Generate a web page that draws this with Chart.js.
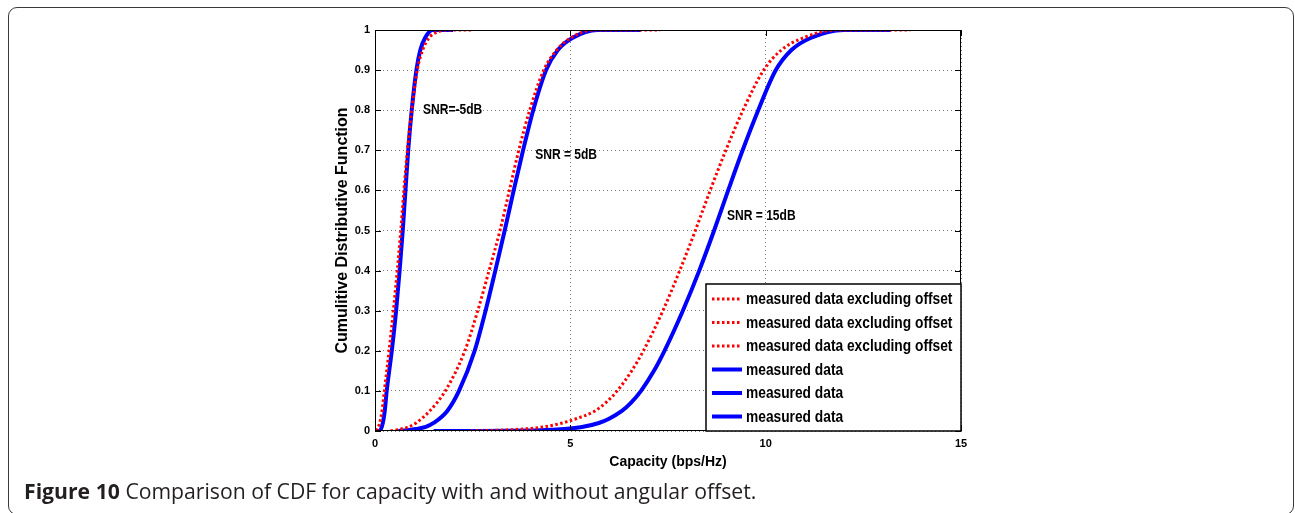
<!DOCTYPE html>
<html>
<head>
<meta charset="utf-8">
<script src="https://cdn.jsdelivr.net/npm/chart.js@4.4.1/dist/chart.umd.min.js"></script>
<style>
  html, body { margin: 0; padding: 0; background: #fff; }
  #page { position: relative; width: 1295px; height: 513px; overflow: hidden; }
  #frame {
    position: absolute; left: 8px; top: 7px; width: 1286px; height: 508px;
    box-sizing: border-box; border: 1.5px solid #3a3a3a; border-radius: 9px;
  }
  #chart { position: absolute; left: 0; top: 0; }
  #caption {
    position: absolute; left: 24px; top: 479px;
    font-family: "Open Sans", "Noto Sans", sans-serif; font-size: 21.2px; line-height: 24px;
    color: #231f20; white-space: nowrap;
  }
  #caption b { font-weight: 700; }
</style>
</head>
<body>
<div id="page">
  <div id="frame"></div>
  <canvas id="chart" width="1295" height="513"></canvas>
  <div id="caption"><b>Figure 10</b> Comparison of CDF for capacity with and without angular offset.</div>
</div>
<script>
// capacity (bps/Hz) and CDF, one pair per curve
const capRedLow  = [0.04, 0.12, 0.18, 0.24, 0.36, 0.47, 0.57, 0.66, 0.74, 0.83, 0.94, 1.08, 1.22, 1.38, 1.6, 1.9, 2.5];
const cdfRedLow  = [0, 0.02, 0.05, 0.1, 0.2, 0.3, 0.4, 0.5, 0.6, 0.7, 0.8, 0.9, 0.95, 0.98, 0.995, 1, 1];
const capRedMid  = [0.4, 0.85, 1.05, 1.4, 1.8, 2.3, 2.63, 2.92, 3.2, 3.44, 3.68, 3.96, 4.32, 4.65, 5.0, 5.6, 7.3];
const cdfRedMid  = [0, 0.01, 0.02, 0.05, 0.1, 0.2, 0.3, 0.4, 0.5, 0.6, 0.7, 0.8, 0.9, 0.95, 0.98, 1, 1];
const capRedHigh = [2.45, 3.2, 3.8, 4.3, 4.8, 5.13, 5.63, 5.9, 6.2, 6.57, 6.87, 7.37, 7.8, 8.2, 8.58, 8.98, 9.42, 9.95, 10.4, 10.95, 11.8, 13.7];
const cdfRedHigh = [0, 0.002, 0.005, 0.01, 0.02, 0.03, 0.05, 0.07, 0.1, 0.15, 0.2, 0.3, 0.4, 0.5, 0.6, 0.7, 0.8, 0.9, 0.95, 0.98, 1, 1];

const capBlueLow  = [0, 0.12, 0.2, 0.25, 0.3, 0.43, 0.54, 0.63, 0.71, 0.78, 0.85, 0.94, 1.06, 1.16, 1.28, 1.47, 2.0];
const cdfBlueLow  = [0, 0, 0.02, 0.05, 0.1, 0.2, 0.3, 0.4, 0.5, 0.6, 0.7, 0.8, 0.9, 0.95, 0.98, 1, 1];
const capBlueMid  = [0.6, 1.05, 1.3, 1.5, 1.85, 2.15, 2.55, 2.83, 3.08, 3.32, 3.55, 3.79, 4.05, 4.38, 4.68, 5.05, 5.7, 6.8];
const cdfBlueMid  = [0, 0.005, 0.01, 0.02, 0.05, 0.1, 0.2, 0.3, 0.4, 0.5, 0.6, 0.7, 0.8, 0.9, 0.95, 0.98, 1, 1];
const capBlueHigh = [1.5, 4.2, 4.85, 5.3, 5.73, 5.98, 6.32, 6.55, 6.81, 7.14, 7.41, 7.88, 8.3, 8.68, 9.04, 9.41, 9.81, 10.26, 10.66, 11.15, 12.0, 13.2];
const cdfBlueHigh = [0, 0.002, 0.005, 0.01, 0.02, 0.03, 0.05, 0.07, 0.1, 0.15, 0.2, 0.3, 0.4, 0.5, 0.6, 0.7, 0.8, 0.9, 0.95, 0.98, 1, 1];

const seriesLabels = [
  'measured data excluding offset', 'measured data excluding offset', 'measured data excluding offset',
  'measured data', 'measured data', 'measured data'
];

const xTicks = [0, 5, 10, 15];
const yTicks = [0, 0.1, 0.2, 0.3, 0.4, 0.5, 0.6, 0.7, 0.8, 0.9, 1];

const snrLabels = ['SNR=-5dB', 'SNR = 5dB', 'SNR = 15dB'];
const snrAtX    = [1.23, 4.10, 9.01];
const snrAtY    = [0.80, 0.688, 0.536];

const pairs = (xs, ys) => xs.map((v, i) => ({ x: v, y: ys[i] }));

const RED = '#ff0000', BLUE = '#0000ff';
const redStyle  = { borderColor: RED,  borderWidth: 3, borderDash: [2.5, 2.5], borderCapStyle: 'butt' };
const blueStyle = { borderColor: BLUE, borderWidth: 4, borderDash: [] };

const curves = [
  [capRedLow, cdfRedLow, redStyle], [capRedMid, cdfRedMid, redStyle], [capRedHigh, cdfRedHigh, redStyle],
  [capBlueLow, cdfBlueLow, blueStyle], [capBlueMid, cdfBlueMid, blueStyle], [capBlueHigh, cdfBlueHigh, blueStyle]
];

const datasets = curves.map(([xs, ys, st], i) => ({
  label: seriesLabels[i],
  data: pairs(xs, ys),
  ...st,
  pointRadius: 0,
  fill: false,
  cubicInterpolationMode: 'monotone'
}));

const NARROW = 0.86;
function narrowText(ctx, text, x, y, size) {
  ctx.save();
  ctx.font = `bold ${size}px "Liberation Sans", Arial, sans-serif`;
  ctx.textBaseline = 'middle';
  ctx.textAlign = 'left';
  ctx.translate(x, y);
  ctx.scale(NARROW, 1);
  ctx.fillText(text, 0, 0);
  ctx.restore();
}

const boxPlugin = {
  id: 'boxPlugin',
  afterDatasetsDraw(chart) {
    const { ctx, chartArea: a, scales: { x, y } } = chart;
    ctx.save();
    ctx.strokeStyle = '#000';
    ctx.lineWidth = 1;
    ctx.strokeRect(a.left + 0.5, a.top + 0.5, a.right - a.left - 1, a.bottom - a.top - 1);

    // inward tick marks, all four sides
    ctx.beginPath();
    xTicks.forEach(v => {
      const px = Math.round(x.getPixelForValue(v)) + 0.5;
      ctx.moveTo(px, a.bottom); ctx.lineTo(px, a.bottom - 6);
      ctx.moveTo(px, a.top);    ctx.lineTo(px, a.top + 6);
    });
    yTicks.forEach(v => {
      const py = Math.round(y.getPixelForValue(v)) + 0.5;
      ctx.moveTo(a.left, py);  ctx.lineTo(a.left + 6, py);
      ctx.moveTo(a.right, py); ctx.lineTo(a.right - 6, py);
    });
    ctx.stroke();

    ctx.fillStyle = '#000';
    snrLabels.forEach((t, i) => narrowText(ctx, t, x.getPixelForValue(snrAtX[i]), y.getPixelForValue(snrAtY[i]), 14));

    // legend box in the lower right corner
    const lw = 255, lh = 147;
    const lx = a.right - lw, ly = a.bottom - lh;
    ctx.fillStyle = '#fff';
    ctx.fillRect(lx, ly, lw, lh);
    ctx.lineWidth = 1.5;
    ctx.strokeStyle = '#000';
    ctx.strokeRect(lx, ly, lw, lh);
    chart.data.datasets.forEach((ds, i) => {
      const cy = ly + 15 + i * 23.5;
      ctx.save();
      ctx.strokeStyle = ds.borderColor;
      ctx.lineWidth = ds.borderWidth;
      ctx.lineCap = 'butt';
      ctx.setLineDash(ds.borderDash || []);
      ctx.beginPath();
      ctx.moveTo(lx + 6, cy); ctx.lineTo(lx + 36, cy);
      ctx.stroke();
      ctx.restore();
      ctx.fillStyle = '#000';
      narrowText(ctx, ds.label, lx + 40, cy + 1, 16);
    });
    ctx.restore();
  }
};

const tickFont = { family: '"Liberation Sans", Arial, sans-serif', size: 11, weight: 'bold' };

new Chart(document.getElementById('chart'), {
  type: 'line',
  data: { datasets },
  plugins: [boxPlugin],
  options: {
    responsive: false,
    animation: false,
    devicePixelRatio: 1,
    layout: { padding: { left: 329, right: 334, top: 30, bottom: 38 } },
    plugins: { legend: { display: false }, tooltip: { enabled: false } },
    scales: {
      x: {
        type: 'linear', min: 0, max: 15,
        afterBuildTicks: s => { s.ticks = xTicks.map(v => ({ value: v })); },
        afterFit: s => { s.height = 44; },
        ticks: { font: tickFont, color: '#000', padding: 6, maxRotation: 0 },
        grid: { color: '#7a7a7a', lineWidth: 1, drawTicks: false },
        border: { display: false, dash: [1, 3] },
        title: { display: true, text: 'Capacity (bps/Hz)', color: '#000',
                 font: { family: '"Liberation Sans", Arial, sans-serif', size: 14, weight: 'bold' },
                 padding: { top: 4, bottom: 4 } }
      },
      y: {
        type: 'linear', min: 0, max: 1,
        afterBuildTicks: s => { s.ticks = yTicks.map(v => ({ value: v })); },
        afterFit: s => { s.width = 46; },
        ticks: { font: tickFont, color: '#000', padding: 5, callback: v => String(+v.toFixed(1)) },
        grid: { color: '#7a7a7a', lineWidth: 1, drawTicks: false },
        border: { display: false, dash: [1, 3] },
        title: { display: true, text: 'Cumulitive Distributive Function', color: '#000',
                 font: { family: '"Liberation Sans", Arial, sans-serif', size: 16, weight: 'bold' },
                 padding: { top: 4, bottom: 4 } }
      }
    }
  }
});
</script>
</body>
</html>
